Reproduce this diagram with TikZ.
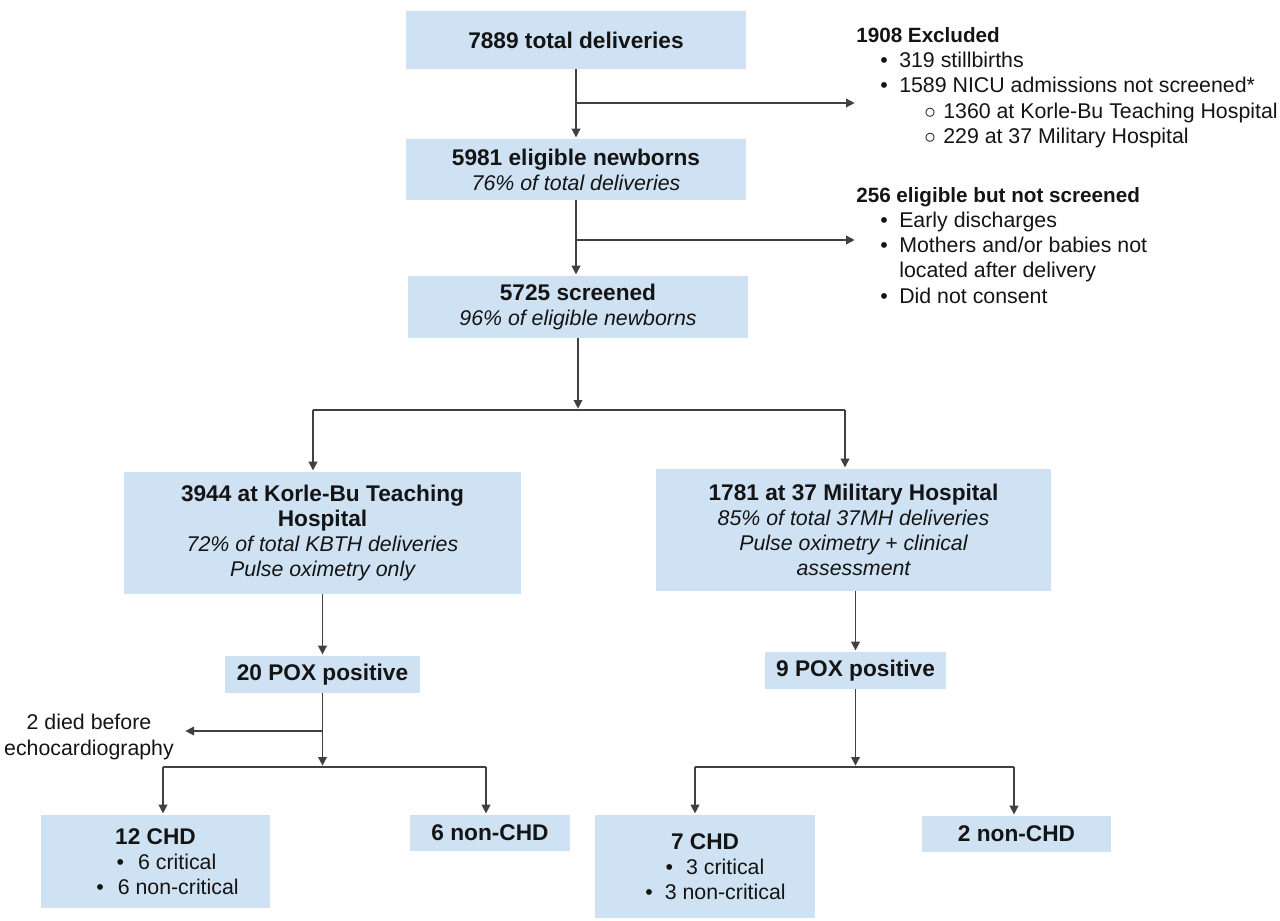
\documentclass[tikz,border=0pt]{standalone}
\usepackage{fontspec}
\setmainfont{Liberation Sans}
\usetikzlibrary{arrows.meta}
\definecolor{boxfill}{RGB}{207,226,243}
\definecolor{linec}{RGB}{64,64,64}
\definecolor{txt}{RGB}{20,20,20}
\newlength\px
\setlength\px{0.75pt}
\newcommand\hd[1]{{\fontsize{17}{18.9}\selectfont\bfseries #1}}
\newcommand\sub[1]{{\itshape #1}}
\newcommand\bul{\makebox[19\px][l]{\textbullet}}
\newcommand\cir{\makebox[19\px][l]{$\circ$}}
\begin{document}
\begin{tikzpicture}[x=0.75pt,y=-0.75pt,
  box/.style={fill=boxfill, draw=none, inner sep=0pt, align=center, text=txt,
    font=\fontsize{16}{18.9}\selectfont},
  note/.style={inner sep=0pt, anchor=base west, text=txt, font=\fontsize{16}{18.9}\selectfont},
  notehd/.style={inner sep=0pt, anchor=base west, text=txt, font=\fontsize{15.5}{18.9}\selectfont\bfseries},
  conn/.style={draw=linec, line width=1.1pt},
  arr/.style={conn, -{Triangle[length=6.5pt,width=6.5pt]}, shorten >=1pt}]
\useasboundingbox (0,0) rectangle (1280,920);

% main column
\node[box, minimum width=340\px, minimum height=58\px] (b1) at (576,40) {\hd{7889 total deliveries}};
\node[box, minimum width=340\px, minimum height=61\px] (b2) at (576,169.5) {\hd{5981 eligible newborns}\\ \sub{76\% of total deliveries}};
\node[box, minimum width=340\px, minimum height=62\px] (b3) at (578,307) {\hd{5725 screened}\\ \sub{96\% of eligible newborns}};

% side notes
\node[notehd] (ex0) at (856,43) {1908 Excluded};
\node[note] (ex1) at (880,68) {\bul 319 stillbirths};
\node[note] (ex2) at (880,93) {\bul 1589 NICU admissions not screened*};
\node[note] (ex3) at (924,119) {\cir 1360 at Korle-Bu Teaching Hospital};
\node[note] (ex4) at (924,144) {\cir 229 at 37 Military Hospital};

\node[notehd] (ne0) at (856,202) {256 eligible but not screened};
\node[note] (ne1) at (880,227) {\bul Early discharges};
\node[note] (ne2) at (880,252) {\bul Mothers and/or babies not};
\node[note] (ne3) at (899,277) {located after delivery};
\node[note] (ne4) at (880,303) {\bul Did not consent};

% hospitals
\node[box, minimum width=397\px, minimum height=122\px] (kb) at (322.5,533)
  {\hd{3944 at Korle-Bu Teaching}\\ \hd{Hospital}\\ \sub{72\% of total KBTH deliveries}\\ \sub{Pulse oximetry only}};
\node[box, minimum width=395\px, minimum height=122\px] (mil) at (853.5,530)
  {\hd{1781 at 37 Military Hospital}\\ \sub{85\% of total 37MH deliveries}\\ \sub{Pulse oximetry + clinical}\\ \sub{assessment}};

\node[box, minimum width=195\px, minimum height=37\px] (p20) at (322.5,674.5) {\hd{20 POX positive}};
\node[box, minimum width=181\px, minimum height=37\px] (p9) at (855.5,670.5) {\hd{9 POX positive}};

\node[text=txt, align=center, inner xsep=10\px, inner ysep=0pt, font=\fontsize{16}{18.9}\selectfont] (died) at (89,737)
  {2 died before\\ echocardiography};

\node[box, minimum width=229\px, minimum height=93\px] (c12) at (155.5,861.5)
  {\hd{12 CHD}\\ \hspace*{22\px}\textbullet\hspace{14\px}6 critical\\ \hspace*{24\px}\textbullet\hspace{14\px}6 non-critical};
\node[box, minimum width=160\px, minimum height=36\px] (n6) at (490,833) {\hd{6 non-CHD}};
\node[box, minimum width=220\px, minimum height=103\px] (c7) at (705,866.5)
  {\hd{7 CHD}\\ \hspace*{20\px}\textbullet\hspace{13\px}3 critical\\ \hspace*{21\px}\textbullet\hspace{12\px}3 non-critical};
\node[box, minimum width=189\px, minimum height=36\px] (n2) at (1016.5,834) {\hd{2 non-CHD}};

% connectors: top column
\draw[arr] (b1.south) -- (b2.north);
\coordinate (j1) at (576,103);
\draw[arr] (j1) -- (j1 -| ex0.west);
\draw[arr] (b2.south) -- (b2.south |- b3.north);
\coordinate (j2) at (576,240);
\draw[arr] (j2) -- (j2 -| ne0.west);

\coordinate (s3) at (578,410);
\draw[arr] (b3.south) -- (s3);
\coordinate (kbin) at (313,410);
\coordinate (milin) at (845,410);
\draw[conn] (kbin) -- (milin);
\draw[arr] (kbin) -- (kbin |- kb.north);
\draw[arr] (milin) -- (milin |- mil.north);

% left branch
\draw[arr] (kb.south) -- (p20.north);
\coordinate (l0) at (322.5,767);
\draw[arr] (p20.south) -- (l0);
\coordinate (jd) at (322.5,731);
\draw[arr] (jd) -- (jd -| died.east);
\coordinate (l1) at (163,767);
\coordinate (l2) at (486,767);
\draw[conn] (l1) -- (l2);
\draw[arr] (l1) -- (l1 |- c12.north);
\draw[arr] (l2) -- (l2 |- n6.north);

% right branch
\draw[arr] (mil.south -| p9.north) -- (p9.north);
\coordinate (r0) at (855.5,767);
\draw[arr] (p9.south) -- (r0);
\coordinate (r1) at (695,767);
\coordinate (r2) at (1014,767);
\draw[conn] (r1) -- (r2);
\draw[arr] (r1) -- (r1 |- c7.north);
\draw[arr] (r2) -- (r2 |- n2.north);
\end{tikzpicture}
\end{document}
